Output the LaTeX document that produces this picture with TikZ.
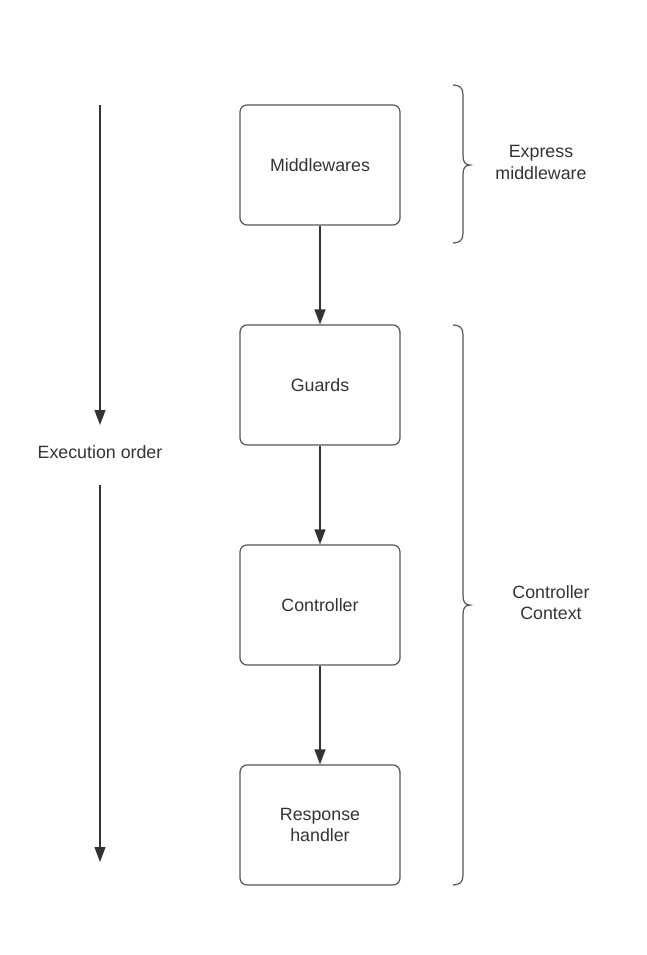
\documentclass[tikz,border=0pt]{standalone}
\usepackage{fontspec}
\setmainfont{Liberation Sans}
\usetikzlibrary{arrows.meta}
\definecolor{ln}{HTML}{333333}
\definecolor{bx}{HTML}{555555}
\tikzset{
  boxnode/.style={draw=bx, line width=1.2pt, rounded corners=7pt, minimum width=160pt, minimum height=120pt, inner sep=0pt, align=center, text=ln, font=\fontsize{17.8}{21.5}\selectfont},
  lbl/.style={align=center, text=ln, font=\fontsize{17.8}{21.5}\selectfont},
  conn/.style={draw=ln, line width=1.2pt, -{Triangle[length=15pt,width=11pt]}},
  brace/.style={draw=bx, line width=1.2pt}
}
\begin{document}
\begin{tikzpicture}[x=1pt,y=-1pt]
\useasboundingbox (0,0) rectangle (647,955);
\node[boxnode] (mw) at (320,165) {Middlewares};
\node[boxnode] (gd) at (320,385) {Guards};
\node[boxnode] (ct) at (320,605) {Controller};
\node[boxnode] (rh) at (320,825) {Response\\handler};
\draw[conn] (mw) -- (gd);
\draw[conn] (gd) -- (ct);
\draw[conn] (ct) -- (rh);
% execution order
\node[lbl] (eo) at (100,452) {Execution order};
\coordinate (a1) at (100,105);
\coordinate (a2) at (100,425);
\coordinate (a3) at (100,485);
\coordinate (a4) at (100,862);
\draw[conn] (a1) -- (a2);
\draw[conn] (a3) -- (a4);
% braces
\draw[brace] (453,85) .. controls (460,85) and (463,88) .. (463,95) -- (463,155) .. controls (463,162) and (465,165) .. (470,165) .. controls (465,165) and (463,168) .. (463,175) -- (463,233) .. controls (463,240) and (460,243) .. (453,243);
\node[lbl] (em) at (541,162.5) {Express\\middleware};
\draw[brace] (453,325) .. controls (460,325) and (463,328) .. (463,335) -- (463,595) .. controls (463,602) and (465,605) .. (470,605) .. controls (465,605) and (463,608) .. (463,615) -- (463,875) .. controls (463,882) and (460,885) .. (453,885);
\node[lbl] (cc) at (551,602.5) {Controller\\Context};
\end{tikzpicture}
\end{document}
